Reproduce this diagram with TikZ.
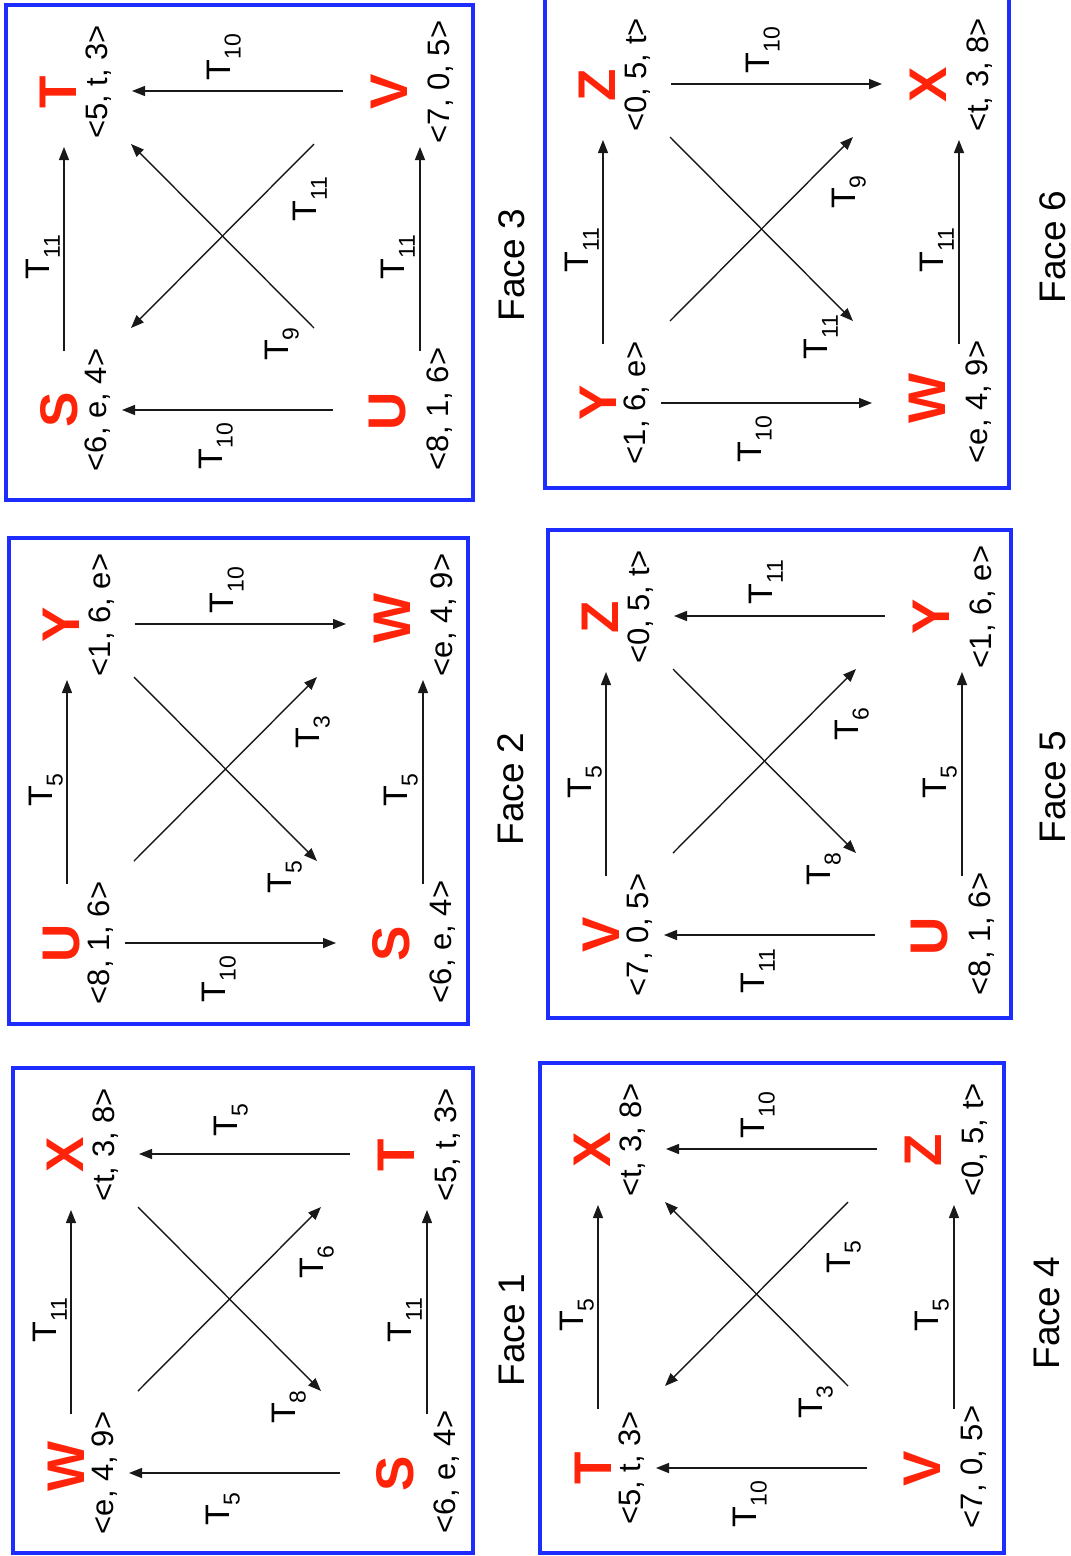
\documentclass[tikz,border=0pt]{standalone}
\usepackage{fontspec}
\setmainfont{Liberation Sans}
\usetikzlibrary{arrows.meta}
\definecolor{bbox}{RGB}{30,45,255}
\definecolor{vred}{RGB}{255,35,10}
\definecolor{ink}{RGB}{25,25,25}
\newcommand\tsub[1]{\raisebox{-0.3em}{\fontsize{23}{23}\selectfont #1}}
\newcommand\vtx[5]{\node[vletter] (#1) at (#2) {#4};\node[vcoord] (#1c) at (#3) {#5};}
\newcommand\tlabel[3]{\node[tlab] (#1) at (#2) {T\tsub{#3}};}
\newcommand\mkends[1]{%
 \coordinate (#1lb) at (58,346); \coordinate (#1lt) at (58,142);
 \coordinate (#1rb) at (414,346); \coordinate (#1rt) at (414,142);
 \coordinate (#1htl) at (126,86); \coordinate (#1htr) at (337,86);
 \coordinate (#1hbl) at (116,405); \coordinate (#1hbr) at (327,405);
 \coordinate (#1dtl) at (125,139); \coordinate (#1dbr) at (308,323);
 \coordinate (#1dbl) at (125,323); \coordinate (#1dtr) at (308,139);}
\newcommand\labs[7]{%
 \tlabel{#1L}{37,252}{#2}\tlabel{#1R}{392,252}{#3}%
 \tlabel{#1T}{218,52}{#4}\tlabel{#1B}{210,441}{#5}%
 \tlabel{#1U}{304,194}{#6}\tlabel{#1D}{276,339}{#7}}
\begin{document}
\begin{tikzpicture}[x=1pt,y=-1pt,
  vletter/.style={rotate=90,inner sep=0pt,text=vred,font=\bfseries\fontsize{53}{53}\selectfont},
  vcoord/.style={rotate=90,inner sep=0pt,font=\fontsize{31}{31}\selectfont},
  tlab/.style={rotate=90,inner sep=0pt,font=\fontsize{34}{34}\selectfont},
  facelab/.style={rotate=90,inner sep=0pt,font=\fontsize{37}{37}\selectfont},
  panel/.style={draw=bbox,line width=4pt},
  arr/.style={draw=ink,line width=1.4pt,-{Triangle[length=13pt,width=10pt]}}]
\useasboundingbox (0,0) rectangle (1071,1556);
\fill[white] (0,0) rectangle (1071,1556);

% Face 3
\begin{scope}[shift={(6,5)}]
\draw[panel] (0,0) rectangle (467,495);
\mkends{c}
\vtx{cTL}{52,87}{93,77}{T}{<5, t, 3>}
\vtx{cTR}{383,87}{435,77}{V}{<7, 0, 5>}
\vtx{cBL}{53,405}{92,405}{S}{<6, e, 4>}
\vtx{cBR}{382,406}{434,404}{U}{<8, 1, 6>}
\draw[arr] (clb) -- (clt);
\draw[arr] (crb) -- (crt);
\draw[arr] (chtr) -- (chtl);
\draw[arr] (chbr) -- (chbl);
\draw[arr] (cdtr) -- (cdbl);
\draw[arr] (cdbr) -- (cdtl);
\labs{c}{11}{11}{10}{10}{11}{9}
\end{scope}

% Face 2
\begin{scope}[shift={(9,538)}]
\draw[panel] (0,0) rectangle (459,486);
\mkends{b}
\vtx{bTL}{52,87}{93,77}{Y}{<1, 6, e>}
\vtx{bTR}{383,80}{435,77}{W}{<e, 4, 9>}
\vtx{bBL}{53,405}{92,405}{U}{<8, 1, 6>}
\vtx{bBR}{382,406}{434,404}{S}{<6, e, 4>}
\draw[arr] (blb) -- (blt);
\draw[arr] (brb) -- (brt);
\draw[arr] (bhtl) -- (bhtr);
\draw[arr] (bhbl) -- (bhbr);
\draw[arr] (bdtl) -- (bdbr);
\draw[arr] (bdbl) -- (bdtr);
\labs{b}{5}{5}{10}{10}{3}{5}
\end{scope}

% Face 1
\begin{scope}[shift={(13,1068)}]
\draw[panel] (0,0) rectangle (460,485);
\mkends{a}
\vtx{aTL}{52,87}{93,77}{X}{<t, 3, 8>}
\vtx{aTR}{383,87}{435,77}{T}{<5, t, 3>}
\vtx{aBL}{53,398}{92,405}{W}{<e, 4, 9>}
\vtx{aBR}{382,406}{434,404}{S}{<6, e, 4>}
\draw[arr] (alb) -- (alt);
\draw[arr] (arb) -- (art);
\draw[arr] (ahtr) -- (ahtl);
\draw[arr] (ahbr) -- (ahbl);
\draw[arr] (adtl) -- (adbr);
\draw[arr] (adbl) -- (adtr);
\labs{a}{11}{11}{5}{5}{6}{8}
\end{scope}

% Face 6
\begin{scope}[shift={(545,-2)}]
\draw[panel] (0,0) rectangle (464,490);
\mkends{f}
\vtx{fTL}{52,87}{93,77}{Z}{<0, 5, t>}
\vtx{fTR}{383,87}{435,77}{X}{<t, 3, 8>}
\vtx{fBL}{53,405}{92,405}{Y}{<1, 6, e>}
\vtx{fBR}{382,400}{434,404}{W}{<e, 4, 9>}
\draw[arr] (flb) -- (flt);
\draw[arr] (frb) -- (frt);
\draw[arr] (fhtl) -- (fhtr);
\draw[arr] (fhbl) -- (fhbr);
\draw[arr] (fdtl) -- (fdbr);
\draw[arr] (fdbl) -- (fdtr);
\labs{f}{11}{11}{10}{10}{9}{11}
\end{scope}

% Face 5
\begin{scope}[shift={(548,530)}]
\draw[panel] (0,0) rectangle (463,488);
\mkends{e}
\vtx{eTL}{52,87}{93,77}{Z}{<0, 5, t>}
\vtx{eTR}{383,87}{435,77}{Y}{<1, 6, e>}
\vtx{eBL}{53,405}{92,405}{V}{<7, 0, 5>}
\vtx{eBR}{382,406}{434,404}{U}{<8, 1, 6>}
\draw[arr] (elb) -- (elt);
\draw[arr] (erb) -- (ert);
\draw[arr] (ehtr) -- (ehtl);
\draw[arr] (ehbr) -- (ehbl);
\draw[arr] (edtl) -- (edbr);
\draw[arr] (edbl) -- (edtr);
\labs{e}{5}{5}{11}{11}{6}{8}
\end{scope}

% Face 4
\begin{scope}[shift={(540,1063)}]
\draw[panel] (0,0) rectangle (464,490);
\mkends{d}
\vtx{dTL}{52,87}{93,77}{X}{<t, 3, 8>}
\vtx{dTR}{383,87}{435,77}{Z}{<0, 5, t>}
\vtx{dBL}{53,405}{92,405}{T}{<5, t, 3>}
\vtx{dBR}{382,406}{434,404}{V}{<7, 0, 5>}
\draw[arr] (dlb) -- (dlt);
\draw[arr] (drb) -- (drt);
\draw[arr] (dhtr) -- (dhtl);
\draw[arr] (dhbr) -- (dhbl);
\draw[arr] (ddtr) -- (ddbl);
\draw[arr] (ddbr) -- (ddtl);
\labs{d}{5}{5}{10}{10}{5}{3}
\end{scope}

\node[facelab] (face1) at (512,1330) {Face 1};
\node[facelab] (face2) at (511,789) {Face 2};
\node[facelab] (face3) at (512,265) {Face 3};
\node[facelab] (face4) at (1047,1313) {Face 4};
\node[facelab] (face5) at (1053,787) {Face 5};
\node[facelab] (face6) at (1053,247) {Face 6};
\end{tikzpicture}
\end{document}
